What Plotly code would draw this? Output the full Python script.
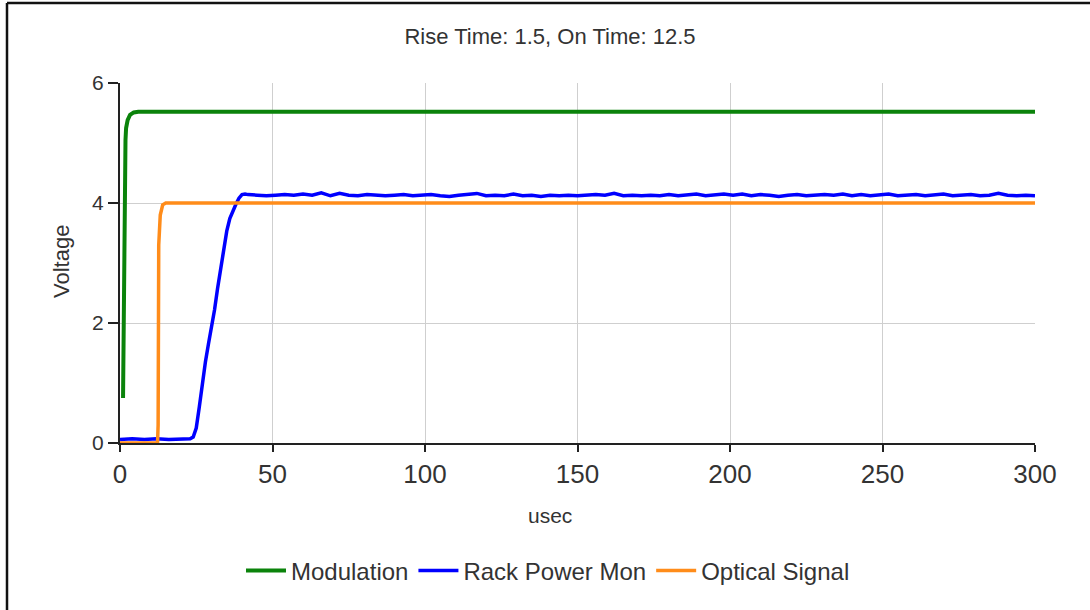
import plotly.graph_objects as go

# ---------------- data ----------------
mod_t = [1.0, 1.1, 1.2, 1.3, 1.4, 1.6, 1.8, 2.0, 2.5, 3.3, 4.5, 6, 10, 20, 30, 40, 50, 60, 70, 80, 90, 100,
         110, 120, 130, 140, 150, 160, 170, 180, 190, 200, 210, 220, 230, 240, 250, 260, 270, 280, 290, 300]
mod_v = [0.75, 1.4, 2.2, 3.0, 3.7, 4.6, 5.05, 5.25, 5.38, 5.47, 5.51, 5.52, 5.52, 5.53, 5.52, 5.52, 5.53, 5.52, 5.52, 5.53, 5.52, 5.52,
         5.52, 5.53, 5.52, 5.52, 5.53, 5.52, 5.53, 5.52, 5.52, 5.53, 5.52, 5.53, 5.52, 5.52, 5.53, 5.52, 5.53, 5.52, 5.52, 5.52]

rack_t = [0, 4, 8, 12, 16, 20, 23, 24, 25, 26, 27, 28, 29, 30, 31, 32, 33, 34, 35, 36, 37, 38, 39, 40, 41,
          42, 45, 48, 51, 54, 57, 60, 63, 66, 69, 72, 75, 78, 81, 84, 87, 90, 93, 96, 99,
          102, 105, 108, 111, 114, 117, 120, 123, 126, 129, 132, 135, 138, 141, 144, 147, 150,
          153, 156, 159, 162, 165, 168, 171, 174, 177, 180, 183, 186, 189, 192, 195, 198, 201,
          204, 207, 210, 213, 216, 219, 222, 225, 228, 231, 234, 237, 240, 243, 246, 249, 252,
          255, 258, 261, 264, 267, 270, 273, 276, 279, 282, 285, 288, 291, 294, 297, 300]
rack_v = [0.06, 0.07, 0.06, 0.07, 0.06, 0.07, 0.07, 0.1, 0.25, 0.6, 1.0, 1.35, 1.65, 1.92, 2.22, 2.58, 2.93, 3.27, 3.53, 3.74, 3.88, 3.98, 4.08, 4.14, 4.15,
          4.14, 4.13, 4.12, 4.13, 4.14, 4.13, 4.15, 4.13, 4.17, 4.12, 4.16, 4.13, 4.12, 4.14, 4.13, 4.12, 4.13, 4.14, 4.12, 4.13,
          4.14, 4.12, 4.11, 4.13, 4.15, 4.16, 4.12, 4.13, 4.12, 4.15, 4.12, 4.13, 4.11, 4.13, 4.12, 4.13, 4.12,
          4.13, 4.14, 4.13, 4.16, 4.12, 4.13, 4.12, 4.13, 4.12, 4.14, 4.12, 4.13, 4.15, 4.12, 4.14, 4.15, 4.13,
          4.15, 4.12, 4.14, 4.13, 4.11, 4.13, 4.14, 4.12, 4.13, 4.14, 4.13, 4.15, 4.12, 4.14, 4.12, 4.13, 4.15,
          4.12, 4.13, 4.14, 4.12, 4.13, 4.15, 4.12, 4.13, 4.14, 4.12, 4.13, 4.16, 4.13, 4.12, 4.13, 4.12]

opt_t = [0, 12.3, 12.5, 12.7, 13.2, 14.0, 15.0, 300]
opt_v = [0.0, 0.0, 0.3, 3.3, 3.8, 3.97, 4.0, 4.0]

x_ticks = [0, 50, 100, 150, 200, 250, 300]
y_ticks = [0, 2, 4, 6]

title_text = "Rise Time: 1.5, On Time: 12.5"
x_title = "usec"
y_title = "Voltage"

# ---------------- figure ----------------
FONT = "Liberation Sans, Arial, sans-serif"
TXT = "#333333"

fig = go.Figure()
fig.add_trace(go.Scatter(x=mod_t, y=mod_v, mode="lines", name="Modulation",
                         line=dict(color="#0b830b", width=4)))
fig.add_trace(go.Scatter(x=rack_t, y=rack_v, mode="lines", name="Rack Power Mon",
                         line=dict(color="#0000ff", width=3.5)))
fig.add_trace(go.Scatter(x=opt_t, y=opt_v, mode="lines", name="Optical Signal",
                         line=dict(color="#ff8c1a", width=3.5)))

# frame geometry (px)
L, R, T, B = 120, 1035, 83, 443
W, H = 1090, 610
pw, ph = R - L, B - T

def px(xp):
    return (xp - L) / pw

def py(yp):
    return (B - yp) / ph

fig.update_layout(
    width=W, height=H,
    margin=dict(l=L, r=W - R, t=T, b=H - B),
    paper_bgcolor="white", plot_bgcolor="white",
    font=dict(family=FONT, color=TXT, size=18),
    title=dict(text=title_text, x=px(550), xref="paper", xanchor="center",
               y=1 - 36 / H, yref="container", yanchor="middle",
               font=dict(family=FONT, size=22, color=TXT)),
    showlegend=True,
    legend=dict(orientation="h", x=px(548), xanchor="center", y=py(571), yanchor="middle",
                font=dict(family=FONT, size=24, color=TXT), bgcolor="rgba(0,0,0,0)",
                itemwidth=40, tracegroupgap=0),
    xaxis=dict(range=[0, 300], tickvals=x_ticks, ticks="outside", ticklen=7, tickwidth=1.5,
               tickcolor="#222", showline=True, linecolor="#222", linewidth=2,
               showgrid=True, gridcolor="#cfcfcf", gridwidth=1, zeroline=False,
               tickfont=dict(family=FONT, size=26, color=TXT), mirror=False),
    yaxis=dict(range=[0, 6], tickvals=y_ticks, ticks="outside", ticklen=10, tickwidth=1.5,
               tickcolor="#222", showline=True, linecolor="#222", linewidth=2,
               showgrid=True, gridcolor="#cfcfcf", gridwidth=1, zeroline=False,
               tickfont=dict(family=FONT, size=21, color=TXT)),
    annotations=[
        dict(text=x_title, x=px(550), y=py(515), xref="paper", yref="paper",
             showarrow=False, xanchor="center", yanchor="middle",
             font=dict(family=FONT, size=21, color=TXT)),
        dict(text=y_title, x=px(61), y=py(262), xref="paper", yref="paper",
             showarrow=False, xanchor="center", yanchor="middle", textangle=-90,
             font=dict(family=FONT, size=22, color=TXT)),
    ],
    shapes=[
        dict(type="line", xref="paper", yref="paper", x0=px(7), x1=px(1095), y0=py(3), y1=py(3),
             line=dict(color="#111", width=2.5)),
        dict(type="line", xref="paper", yref="paper", x0=px(7), x1=px(7), y0=py(3), y1=py(615),
             line=dict(color="#111", width=2.5)),
    ],
)

fig.write_html("out.html")
